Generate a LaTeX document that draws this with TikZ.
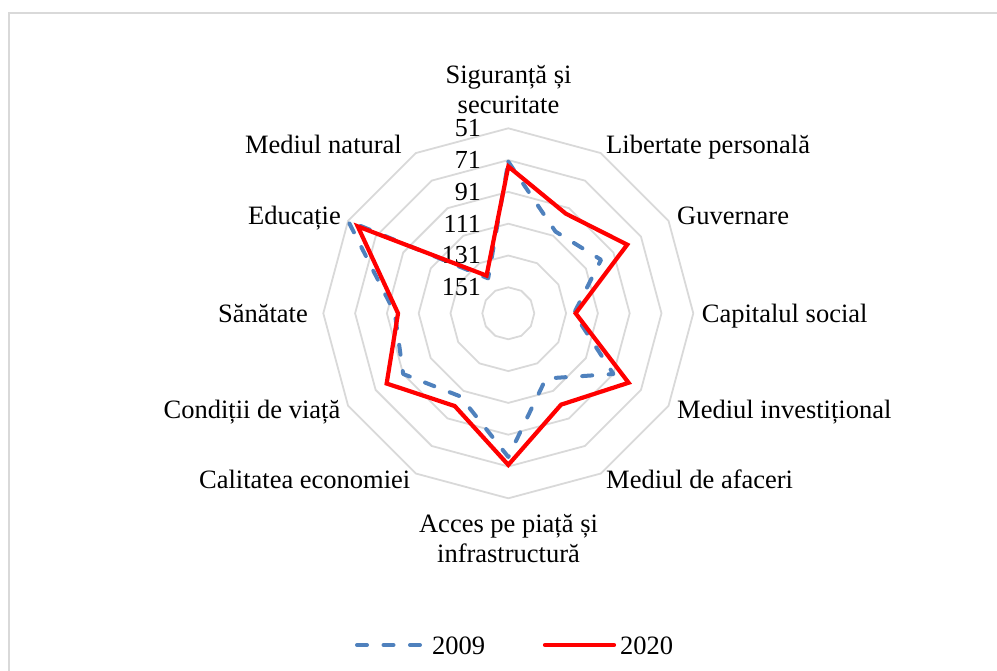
\documentclass[tikz,border=0pt]{standalone}
\usepackage{fontspec}
\setmainfont{Liberation Serif}
\definecolor{ringgray}{HTML}{D9D9D9}
\definecolor{framegray}{HTML}{D9D9D9}
\definecolor{serblue}{HTML}{4F81BD}
\definecolor{serred}{HTML}{FF0000}
\begin{document}
\begin{tikzpicture}[x=1pt,y=-1pt,
  lbl/.style={font=\fontsize{26.5}{30}\selectfont, inner sep=0pt},
  num/.style={font=\fontsize{26}{30}\selectfont, inner sep=0pt, anchor=base east},
  ring/.style={draw=ringgray, line width=1.8pt},
  frameline/.style={draw=framegray, line width=1.6pt},
  ser2009/.style={draw=serblue, line width=4pt, line cap=round, line join=round, dash pattern=on 10pt off 16.5pt},
  ser2020/.style={draw=serred, line width=4.2pt, line join=miter}]
\useasboundingbox (0,0) rectangle (997,671);
% frame
\coordinate (fa) at (9,671);
\coordinate (fb) at (9,13);
\coordinate (fc) at (997,13);
\draw[frameline] (fa) -- (fb) -- (fc);
% center
\def\cx{508.3}
\def\cy{313.3}
% rings
\foreach \v in {51,71,91,111,131,151} {
  \pgfmathsetmacro\R{185-1.59*(\v-51)}
  \draw[ring] plot[samples at={0,30,...,330}] ({\cx+\R*cos(\x+90)},{\cy-\R*sin(\x+90)}) -- cycle;
  \node[num] (n\v) at (481,{\cy-\R+8.4}) {\v};
}
% data 2009
\foreach \v [count=\i from 0] in {72,108,100,126,91,120,77,107,91,96,51,142} {
  \pgfmathsetmacro\R{185-1.59*(\v-51)}
  \coordinate (b\i) at ({\cx+\R*cos(90-30*\i)},{\cy-\R*sin(90-30*\i)});
}
% data 2020
\foreach \v [count=\i from 0] in {75,95,81,125,80,101,72,100,79,98,58,140} {
  \pgfmathsetmacro\R{185-1.59*(\v-51)}
  \coordinate (r\i) at ({\cx+\R*cos(90-30*\i)},{\cy-\R*sin(90-30*\i)});
}
\draw[ser2009] (b0) -- (b1) -- (b2) -- (b3) -- (b4) -- (b5) -- (b6) -- (b7) -- (b8) -- (b9) -- (b10) -- (b11) -- cycle;
\draw[ser2020] (r0) -- (r1) -- (r2) -- (r3) -- (r4) -- (r5) -- (r6) -- (r7) -- (r8) -- (r9) -- (r10) -- (r11) -- cycle;
% category labels
\node[lbl, anchor=base] (l0a) at (508.5,83.3) {Siguranță și};
\node[lbl, anchor=base] (l0b) at (508.5,113.3) {securitate};
\node[lbl, anchor=base west] (l1) at (606,154) {Libertate personală};
\node[lbl, anchor=base west] (l2) at (677,225) {Guvernare};
\node[lbl, anchor=base west] (l3) at (701.7,322.3) {Capitalul social};
\node[lbl, anchor=base west] (l4) at (677,418.3) {Mediul investițional};
\node[lbl, anchor=base west] (l5) at (606,488.3) {Mediul de afaceri};
\node[lbl, anchor=base] (l6a) at (508.5,532) {Acces pe piață și};
\node[lbl, anchor=base] (l6b) at (508.5,562) {infrastructură};
\node[lbl, anchor=base east] (l7) at (410.5,488.3) {Calitatea economiei};
\node[lbl, anchor=base east] (l8) at (340.5,418.3) {Condiții de viață};
\node[lbl, anchor=base east] (l9) at (308,322.3) {Sănătate};
\node[lbl, anchor=base east] (l10) at (341,225) {Educație};
\node[lbl, anchor=base east] (l11) at (402,154) {Mediul natural};
% legend
\coordinate (lg1a) at (357,645);
\coordinate (lg1b) at (425,645);
\coordinate (lg2a) at (545,645);
\coordinate (lg2b) at (614,645);
\draw[ser2009] (lg1a) -- (lg1b);
\node[lbl, anchor=base west] (t2009) at (432,654.3) {2009};
\draw[ser2020, line cap=round] (lg2a) -- (lg2b);
\node[lbl, anchor=base west] (t2020) at (620,654.3) {2020};
\end{tikzpicture}
\end{document}
